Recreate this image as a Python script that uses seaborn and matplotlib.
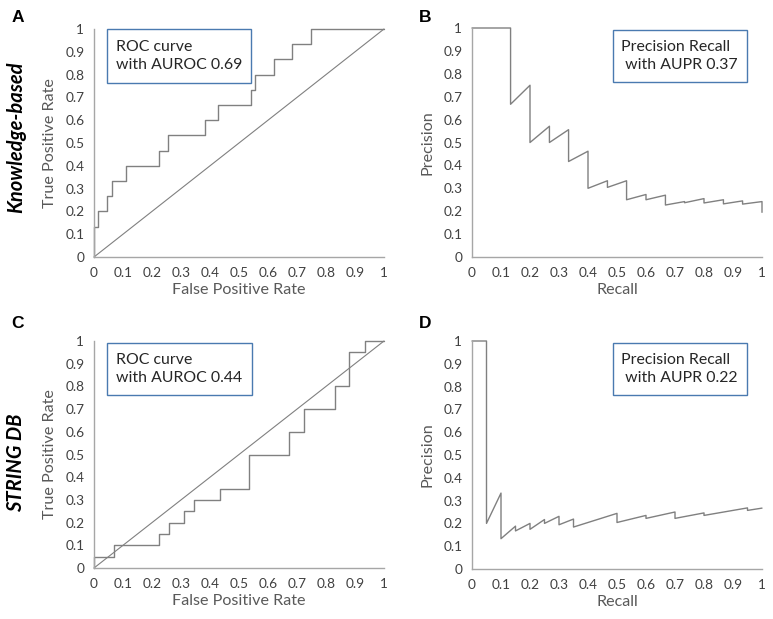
import numpy as np
import pandas as pd
import seaborn as sns
import matplotlib.pyplot as plt
from matplotlib.patches import Rectangle

# ROC step corners (FPR where TPR jumps, TPR after the jump)
kb_fpr = [0, 0.013, 0.046, 0.062, 0.110, 0.223, 0.254, 0.383, 0.428, 0.541, 0.555, 0.620, 0.684, 0.747, 1.0]
kb_tpr = [0.133, 0.2, 0.267, 0.333, 0.4, 0.467, 0.533, 0.6, 0.667, 0.733, 0.8, 0.867, 0.933, 1.0, 1.0]
st_fpr = [0, 0.069, 0.223, 0.258, 0.311, 0.344, 0.433, 0.536, 0.674, 0.724, 0.830, 0.879, 0.934, 1.0]
st_tpr = [0.05, 0.1, 0.15, 0.2, 0.25, 0.3, 0.35, 0.5, 0.6, 0.7, 0.8, 0.95, 1.0, 1.0]

# precision-recall curve vertices
kb_recall = [0, 0.133, 0.133, 0.2, 0.2, 0.267, 0.267, 0.333, 0.333, 0.4, 0.4, 0.467, 0.467, 0.533, 0.533,
             0.6, 0.6, 0.667, 0.667, 0.733, 0.733, 0.8, 0.8, 0.867, 0.867, 0.933, 0.933, 1.0, 1.0]
kb_precision = [1, 1, 0.667, 0.75, 0.5, 0.571, 0.5, 0.556, 0.417, 0.462, 0.3, 0.333, 0.304, 0.333, 0.25,
                0.273, 0.25, 0.27, 0.227, 0.242, 0.237, 0.255, 0.236, 0.25, 0.232, 0.245, 0.231, 0.242, 0.195]
st_recall = [0, 0.05, 0.05, 0.1, 0.1, 0.15, 0.15, 0.2, 0.2, 0.25, 0.25, 0.3, 0.3, 0.35, 0.35,
             0.5, 0.5, 0.6, 0.6, 0.7, 0.7, 0.8, 0.8, 0.95, 0.95, 1.0]
st_precision = [1, 1, 0.2, 0.333, 0.133, 0.188, 0.167, 0.2, 0.174, 0.217, 0.2, 0.231, 0.194, 0.219, 0.184,
                0.244, 0.204, 0.235, 0.222, 0.25, 0.222, 0.246, 0.235, 0.268, 0.257, 0.267]

ticks = np.round(np.arange(0, 1.01, 0.1), 1)
tick_labels = ['0', '0.1', '0.2', '0.3', '0.4', '0.5', '0.6', '0.7', '0.8', '0.9', '1']

sns.set_style('white')
plt.rcParams['font.family'] = ['Lato', 'DejaVu Sans']

line_c = '#808080'
axis_c = '#a6a6a6'
text_c = '#595959'
box_c = '#4a7ab0'

fig = plt.figure(figsize=(7.73, 6.19), dpi=100)
W, H = 773, 619


def add_ax(l, t, r, b):
    return fig.add_axes([l / W, 1 - b / H, (r - l) / W, (b - t) / H])


def style(ax, xlabel, ylabel):
    ax.set_xlim(0, 1)
    ax.set_ylim(0, 1)
    ax.set_xticks(ticks)
    ax.set_yticks(ticks)
    ax.set_xticklabels(tick_labels)
    ax.set_yticklabels(tick_labels)
    for s in ['top', 'right']:
        ax.spines[s].set_visible(False)
    for s in ['left', 'bottom']:
        ax.spines[s].set_color(axis_c)
        ax.spines[s].set_linewidth(1.0)
    ax.tick_params(axis='x', direction='in', length=3, color=axis_c, labelcolor='#404040', labelsize=9.8, pad=7)
    ax.tick_params(axis='y', direction='out', length=3, color=axis_c, labelcolor='#404040', labelsize=9.8, pad=4)
    ax.set_xlabel(xlabel, fontsize=11.6, color=text_c, labelpad=3)
    ax.set_ylabel(ylabel, fontsize=11.6, color=text_c, labelpad=6)


def box(ax, x0, y0, x1, y1, lines, tx):
    ax.add_patch(Rectangle((x0, y0), x1 - x0, y1 - y0, transform=ax.transAxes, fill=True,
                           facecolor='white', edgecolor=box_c, lw=1.0, zorder=5, clip_on=False))
    ax.text(tx, (y0 + y1) / 2, lines, transform=ax.transAxes, ha='left', va='center',
            fontsize=11.4, color='#262626', linespacing=1.3, zorder=6)


def roc(ax, fpr, tpr):
    d = pd.DataFrame({'fpr': [0] + fpr, 'tpr': [0] + tpr})
    sns.lineplot(data=d, x='fpr', y='tpr', estimator=None, sort=False, ax=ax,
                 color=line_c, lw=1.0, drawstyle='steps-post', clip_on=False)
    sns.lineplot(x=[0, 1], y=[0, 1], estimator=None, ax=ax, color=line_c, lw=0.8, clip_on=False)


def pr(ax, rec, prec):
    d = pd.DataFrame({'recall': rec, 'precision': prec})
    sns.lineplot(data=d, x='recall', y='precision', estimator=None, sort=False, ax=ax,
                 color=line_c, lw=1.0, clip_on=False)


axA = add_ax(94, 29, 384, 257)
axB = add_ax(472, 28, 762, 257)
axC = add_ax(94, 341, 384, 568)
axD = add_ax(472, 341, 762, 569)

roc(axA, kb_fpr, kb_tpr)
roc(axC, st_fpr, st_tpr)
pr(axB, kb_recall, kb_precision)
pr(axD, st_recall, st_precision)

for ax in (axA, axC):
    style(ax, 'False Positive Rate', 'True Positive Rate')
for ax in (axB, axD):
    style(ax, 'Recall', 'Precision')

# annotation boxes (pixel geometry converted to axes fractions)
box(axA, 13 / 290, 174 / 228, 157 / 290, 228 / 228, 'ROC curve\nwith AUROC 0.69', 22 / 290)
box(axC, 13 / 290, 173 / 227, 158 / 290, 225 / 227, 'ROC curve\nwith AUROC 0.44', 22 / 290)
box(axB, 141 / 290, 175 / 229, 275 / 290, 227 / 229, 'Precision Recall\n with AUPR 0.37', 149 / 290)
box(axD, 141 / 290, 174 / 228, 275 / 290, 226 / 228, 'Precision Recall\n with AUPR 0.22', 149 / 290)

# panel letters and row titles
for lab, x, y in [('A', 18, 18), ('B', 425, 18), ('C', 18, 323), ('D', 425, 323)]:
    fig.text(x / W, 1 - y / H, lab, fontsize=12.5, fontweight='bold', ha='center', va='center',
             family=['Liberation Sans', 'DejaVu Sans'], color='black')
fig.text(16 / W, 1 - 137 / H, 'Knowledge-based', rotation=90, fontsize=14.5, fontweight='bold',
         fontstyle='italic', ha='center', va='center', color='black')
fig.text(16 / W, 1 - 463 / H, 'STRING DB', rotation=90, fontsize=14.5, fontweight='bold',
         fontstyle='italic', ha='center', va='center', color='black')

fig.savefig('out.png', dpi=100)
